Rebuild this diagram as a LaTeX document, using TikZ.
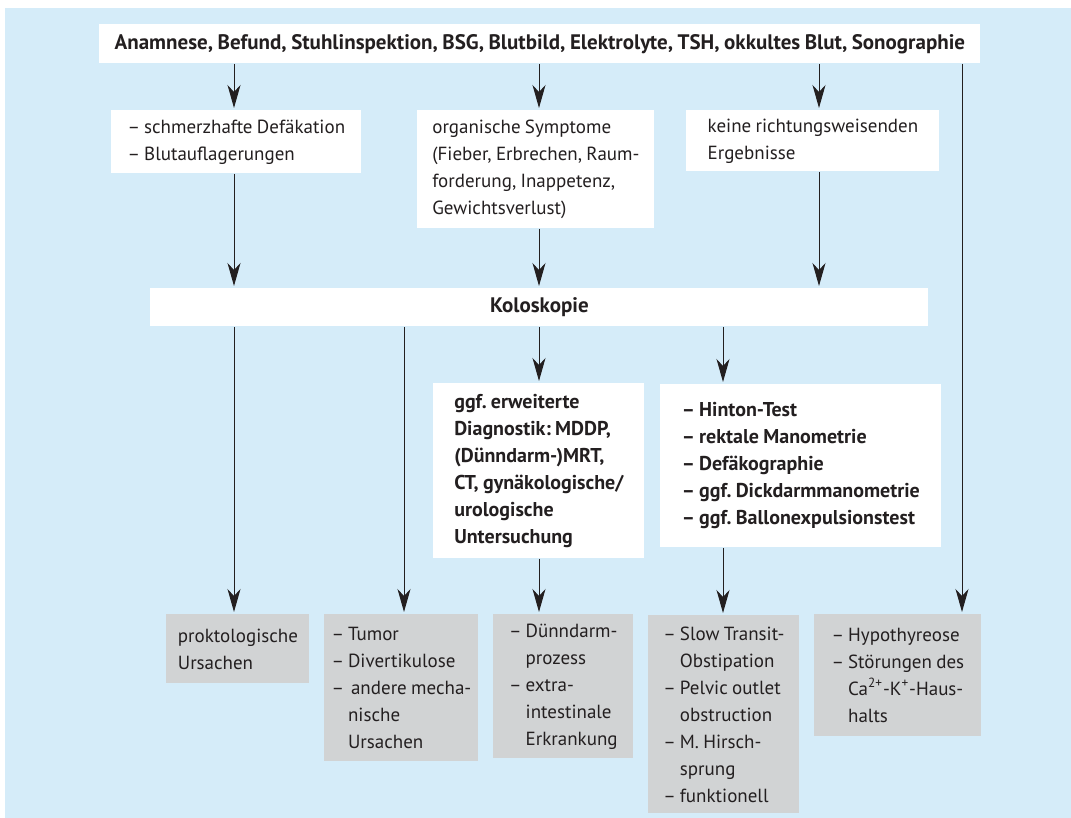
\documentclass[tikz,border=0pt]{standalone}
\usepackage{fontspec}
\setmainfont{PT Sans}[WordSpace=0.85]
\usetikzlibrary{arrows.meta, positioning}
\definecolor{panelfill}{HTML}{D5ECF9}
\definecolor{greyfill}{HTML}{D1D3D4}
\definecolor{inkline}{HTML}{231F20}
\tikzset{
  card/.style={rectangle, fill=white, anchor=north west, inner xsep=2pt, inner ysep=0pt,
               align=left, text=inkline, font=\fontsize{9.5}{13.5}\selectfont,
               execute at begin node=\frenchspacing},
  boldcard/.style={card, font=\fontsize{10}{13.5}\selectfont\bfseries},
  headcard/.style={card, align=center, font=\fontsize{10.5}{13.5}\selectfont\bfseries},
  outcome/.style={card, fill=greyfill},
  flow/.style={-{Stealth[length=11.5pt, width=6.5pt, inset=3.5pt]}, line width=0.5pt,
               draw=inkline, shorten >=1pt},
}
\newcommand{\li}{–\kern2pt}
\newcommand{\ind}{\phantom{\li}}

\begin{document}
\begin{tikzpicture}[x=0.5pt, y=-0.5pt]
\useasboundingbox (0,0) rectangle (1071,818);
\fill[panelfill] (5,8) rectangle (1071,818);

% Arrow columns (x only)
\coordinate (colA) at (234,0);
\coordinate (colB) at (404,0);
\coordinate (colC) at (539,0);
\coordinate (colD) at (723,0);
\coordinate (colE) at (819,0);
\coordinate (colF) at (962,0);

% Basic work-up
\node[headcard, minimum width=440.5pt, minimum height=19.5pt] (workup) at (99,24)
  {Anamnese, Befund, Stuhlinspektion, BSG, Blutbild, Elektrolyte, TSH, okkultes Blut, Sonographie};

% Findings
\node[card, minimum width=125pt, minimum height=31.5pt] (pain) at (111,110)
  {\li schmerzhafte Defäkation\\\li Blutauflagerungen};
\node[card, minimum width=118.5pt, minimum height=59pt] (organic) at (417,110)
  {organische Symptome\\(Fieber, Erbrechen, Raum-\\forderung, Inappetenz,\\Gewichtsverlust)};
\node[card, minimum width=126.5pt, minimum height=30.5pt] (nohint) at (686,110)
  {keine richtungsweisenden\\Ergebnisse};

% Koloskopie
\node[headcard, minimum width=389pt, minimum height=19pt] (colo) at (150,288) {Koloskopie};

% Further diagnostics
\node[boldcard, minimum width=105.5pt, minimum height=87.5pt] (extdiag) at (433,383)
  {ggf. erweiterte\\Diagnostik: MDDP,\\(Dünndarm-)MRT,\\CT, gynäkologische/\\urologische\\Untersuchung};
\node[boldcard, minimum width=140.5pt, minimum height=81.5pt] (function) at (660,384)
  {\li Hinton-Test\\\li rektale Manometrie\\\li Defäkographie\\\li ggf. Dickdarmmanometrie\\\li ggf. Ballonexpulsionstest};

% Causes
\node[outcome, minimum width=71.5pt, minimum height=34.5pt] (procto) at (166,614)
  {proktologische\\Ursachen};
\node[outcome, minimum width=77pt, minimum height=73.5pt] (tumor) at (324,614)
  {\li Tumor\\\li Divertikulose\\\li\kern1.5pt andere mecha-\\\ind nische\\\ind Ursachen};
\node[outcome, minimum width=70pt, minimum height=72pt] (smallbowel) at (493,614)
  {\li Dünndarm-\\\ind prozess\\\li extra-\\\ind intestinale\\\ind Erkrankung};
\node[outcome, minimum width=75.5pt, minimum height=99pt] (transit) at (648,615)
  {\li Slow Transit-\\\ind Obstipation\\\li Pelvic outlet\\\ind obstruction\\\li M. Hirsch-\\\ind sprung\\\li funktionell};
\node[outcome, minimum width=83.5pt, minimum height=61pt] (thyroid) at (814,614)
  {\li Hypothyreose\\\li Störungen des\\\ind Ca\textsuperscript{2+}-K\textsuperscript{+}-Haus-\\\ind halts};

% Flow
\draw[flow] (workup.south -| colA) -- (pain.north -| colA);
\draw[flow] (workup.south -| colC) -- (organic.north -| colC);
\draw[flow] (workup.south -| colE) -- (nohint.north -| colE);
\draw[flow] (workup.south -| colF) -- (thyroid.north -| colF);
\draw[flow] (pain.south -| colA) -- (colo.north -| colA);
\draw[flow] (organic.south -| colC) -- (colo.north -| colC);
\draw[flow] (nohint.south -| colE) -- (colo.north -| colE);
\draw[flow] (colo.south -| colA) -- (procto.north -| colA);
\draw[flow] (colo.south -| colB) -- (tumor.north -| colB);
\draw[flow] (colo.south -| colC) -- (extdiag.north -| colC);
\draw[flow] (colo.south -| colD) -- (function.north -| colD);
\draw[flow] (extdiag.south -| colC) -- (smallbowel.north -| colC);
\draw[flow] (function.south -| colD) -- (transit.north -| colD);

\end{tikzpicture}
\end{document}
